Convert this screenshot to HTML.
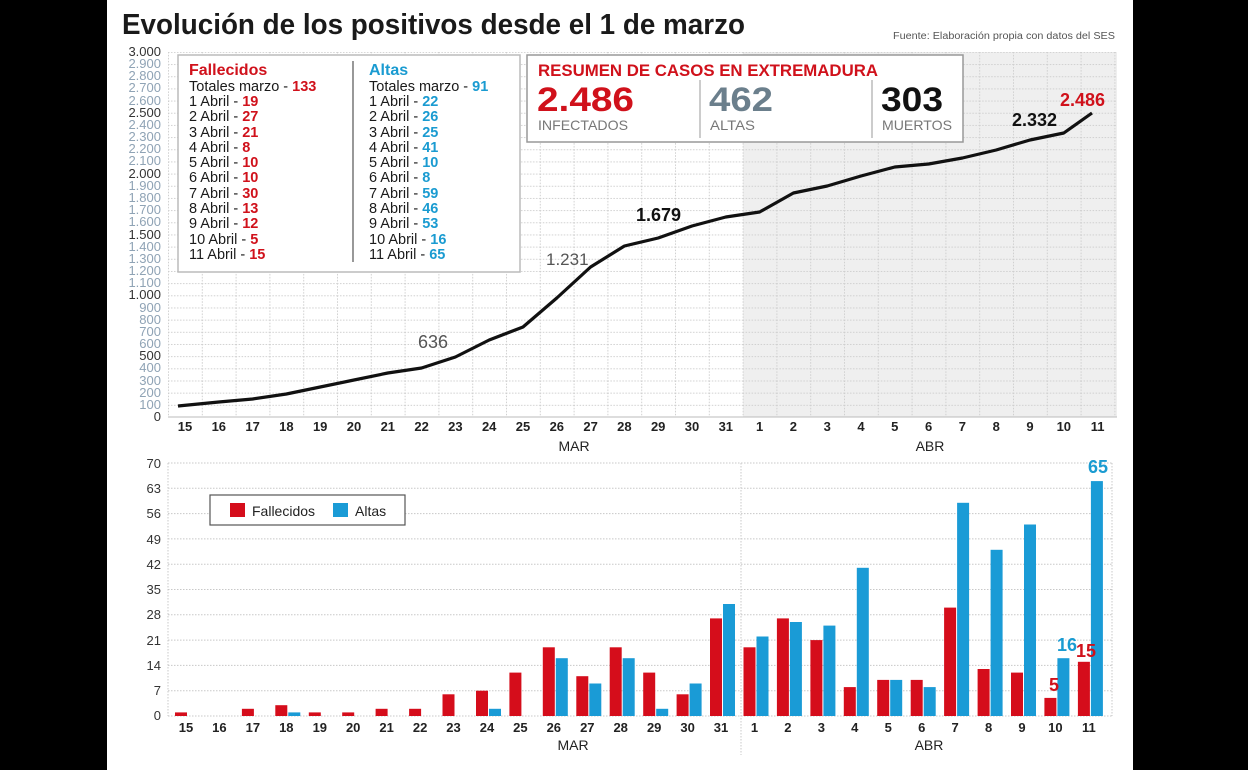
<!DOCTYPE html>
<html><head><meta charset="utf-8"><style>
html,body{margin:0;padding:0;background:#000;}
svg{display:block;font-family:"Liberation Sans",sans-serif;}
</style></head><body>
<svg width="1248" height="770" viewBox="0 0 1248 770" xmlns="http://www.w3.org/2000/svg">
<defs>
<pattern id="g1" x="168" y="51.9" width="33.8" height="12.17" patternUnits="userSpaceOnUse">
<path d="M0 0.5H33.8 M0.5 0V12.17" stroke="#cfcfcf" stroke-width="1" stroke-dasharray="1.5 1.5" fill="none"/>
</pattern>
</defs>
<rect x="0" y="0" width="1248" height="770" fill="#000"/>
<rect x="107" y="0" width="1026" height="770" fill="#fff"/>
<text x="122" y="34" font-size="29" font-weight="bold" fill="#1a1a1a" textLength="623" lengthAdjust="spacingAndGlyphs">Evolución de los positivos desde el 1 de marzo</text>
<text x="893" y="39" font-size="10" fill="#555" textLength="222" lengthAdjust="spacingAndGlyphs">Fuente: Elaboración propia con datos del SES</text>

<!-- top chart -->
<rect x="743" y="52" width="374" height="365" fill="#efefef"/>
<rect x="168" y="52" width="949" height="365" fill="url(#g1)"/>
<line x1="168" y1="417" x2="1117" y2="417" stroke="#bbb"/>
<g font-size="13" text-anchor="end" fill="#8fa3b5">
<text x="161" y="56" fill="#333">3.000</text><text x="161" y="68">2.900</text><text x="161" y="80">2.800</text><text x="161" y="92">2.700</text><text x="161" y="105">2.600</text><text x="161" y="117" fill="#333">2.500</text><text x="161" y="129">2.400</text><text x="161" y="141">2.300</text><text x="161" y="153">2.200</text><text x="161" y="165">2.100</text><text x="161" y="178" fill="#333">2.000</text><text x="161" y="190">1.900</text><text x="161" y="202">1.800</text><text x="161" y="214">1.700</text><text x="161" y="226">1.600</text><text x="161" y="239" fill="#333">1.500</text><text x="161" y="251">1.400</text><text x="161" y="263">1.300</text><text x="161" y="275">1.200</text><text x="161" y="287">1.100</text><text x="161" y="299" fill="#333">1.000</text><text x="161" y="312">900</text><text x="161" y="324">800</text><text x="161" y="336">700</text><text x="161" y="348">600</text><text x="161" y="360" fill="#333">500</text><text x="161" y="372">400</text><text x="161" y="385">300</text><text x="161" y="397">200</text><text x="161" y="409">100</text><text x="161" y="421" fill="#333">0</text>
</g>
<polyline fill="none" stroke="#111" stroke-width="3.2" stroke-linejoin="round" points="178,406 218.8,402 252.6,399 286.4,394 320.2,387 354,380 387.8,373 421.6,368 455.4,357 489.2,340 523,327 556.8,298 590.6,267 624.4,246 658.2,238 692,226 725.8,217 759.6,212 793.4,193 827.2,186 861,176 894.8,167 928.6,164 962.4,158 996.2,150 1030,140 1063.8,133 1092,113"/>
<text x="418" y="348" font-size="18" fill="#555">636</text>
<text x="546" y="265" font-size="17" fill="#555">1.231</text>
<text x="636" y="221" font-size="18" font-weight="bold" fill="#111">1.679</text>
<text x="1012" y="126" font-size="18" font-weight="bold" fill="#111">2.332</text>
<text x="1060" y="106" font-size="18" font-weight="bold" fill="#d0111b">2.486</text>
<g font-size="13" font-weight="bold" text-anchor="middle" fill="#222">
<text x="185" y="431">15</text><text x="218.8" y="431">16</text><text x="252.6" y="431">17</text><text x="286.4" y="431">18</text><text x="320.2" y="431">19</text><text x="354" y="431">20</text><text x="387.8" y="431">21</text><text x="421.6" y="431">22</text><text x="455.4" y="431">23</text><text x="489.2" y="431">24</text><text x="523" y="431">25</text><text x="556.8" y="431">26</text><text x="590.6" y="431">27</text><text x="624.4" y="431">28</text><text x="658.2" y="431">29</text><text x="692" y="431">30</text><text x="725.8" y="431">31</text><text x="759.6" y="431">1</text><text x="793.4" y="431">2</text><text x="827.2" y="431">3</text><text x="861" y="431">4</text><text x="894.8" y="431">5</text><text x="928.6" y="431">6</text><text x="962.4" y="431">7</text><text x="996.2" y="431">8</text><text x="1030" y="431">9</text><text x="1063.8" y="431">10</text><text x="1097.6" y="431">11</text>
<text x="574" y="451" font-weight="normal" font-size="14">MAR</text><text x="930" y="451" font-weight="normal" font-size="14">ABR</text>
</g>

<!-- legend table -->
<rect x="178" y="55" width="342" height="217" fill="#fff" stroke="#bbb" stroke-width="1.5"/>
<line x1="353" y1="61" x2="353" y2="262" stroke="#555" stroke-width="1.2"/>
<g font-size="14.5" fill="#1a1a1a">
<text x="189" y="75" font-weight="bold" fill="#d0111b" font-size="16">Fallecidos</text>
<text x="189" y="91">Totales marzo - <tspan fill="#d0111b" font-weight="bold">133</tspan></text>
<text x="189" y="106">1 Abril - <tspan fill="#d0111b" font-weight="bold">19</tspan></text>
<text x="189" y="121">2 Abril - <tspan fill="#d0111b" font-weight="bold">27</tspan></text>
<text x="189" y="137">3 Abril - <tspan fill="#d0111b" font-weight="bold">21</tspan></text>
<text x="189" y="152">4 Abril - <tspan fill="#d0111b" font-weight="bold">8</tspan></text>
<text x="189" y="167">5 Abril - <tspan fill="#d0111b" font-weight="bold">10</tspan></text>
<text x="189" y="182">6 Abril - <tspan fill="#d0111b" font-weight="bold">10</tspan></text>
<text x="189" y="198">7 Abril - <tspan fill="#d0111b" font-weight="bold">30</tspan></text>
<text x="189" y="213">8 Abril - <tspan fill="#d0111b" font-weight="bold">13</tspan></text>
<text x="189" y="228">9 Abril - <tspan fill="#d0111b" font-weight="bold">12</tspan></text>
<text x="189" y="244">10 Abril - <tspan fill="#d0111b" font-weight="bold">5</tspan></text>
<text x="189" y="259">11 Abril - <tspan fill="#d0111b" font-weight="bold">15</tspan></text>
<text x="369" y="75" font-weight="bold" fill="#1a9bd1" font-size="16">Altas</text>
<text x="369" y="91">Totales marzo - <tspan fill="#1a9bd1" font-weight="bold">91</tspan></text>
<text x="369" y="106">1 Abril - <tspan fill="#1a9bd1" font-weight="bold">22</tspan></text>
<text x="369" y="121">2 Abril - <tspan fill="#1a9bd1" font-weight="bold">26</tspan></text>
<text x="369" y="137">3 Abril - <tspan fill="#1a9bd1" font-weight="bold">25</tspan></text>
<text x="369" y="152">4 Abril - <tspan fill="#1a9bd1" font-weight="bold">41</tspan></text>
<text x="369" y="167">5 Abril - <tspan fill="#1a9bd1" font-weight="bold">10</tspan></text>
<text x="369" y="182">6 Abril - <tspan fill="#1a9bd1" font-weight="bold">8</tspan></text>
<text x="369" y="198">7 Abril - <tspan fill="#1a9bd1" font-weight="bold">59</tspan></text>
<text x="369" y="213">8 Abril - <tspan fill="#1a9bd1" font-weight="bold">46</tspan></text>
<text x="369" y="228">9 Abril - <tspan fill="#1a9bd1" font-weight="bold">53</tspan></text>
<text x="369" y="244">10 Abril - <tspan fill="#1a9bd1" font-weight="bold">16</tspan></text>
<text x="369" y="259">11 Abril - <tspan fill="#1a9bd1" font-weight="bold">65</tspan></text>
</g>

<!-- summary -->
<rect x="527" y="55" width="436" height="87" fill="#fff" stroke="#999" stroke-width="1.5"/>
<text x="538" y="76" font-size="17" font-weight="bold" fill="#d0111b" textLength="340" lengthAdjust="spacingAndGlyphs">RESUMEN DE CASOS EN EXTREMADURA</text>
<line x1="700" y1="80" x2="700" y2="138" stroke="#999"/>
<line x1="872" y1="80" x2="872" y2="138" stroke="#999"/>
<text x="537" y="111" font-size="34" font-weight="bold" fill="#d0111b" textLength="97" lengthAdjust="spacingAndGlyphs">2.486</text>
<text x="709" y="111" font-size="34" font-weight="bold" fill="#6b7f8c" textLength="64" lengthAdjust="spacingAndGlyphs">462</text>
<text x="881" y="111" font-size="34" font-weight="bold" fill="#111" textLength="62" lengthAdjust="spacingAndGlyphs">303</text>
<text x="538" y="130" font-size="14" fill="#777" textLength="90" lengthAdjust="spacingAndGlyphs">INFECTADOS</text>
<text x="710" y="130" font-size="14" fill="#777" textLength="45" lengthAdjust="spacingAndGlyphs">ALTAS</text>
<text x="882" y="130" font-size="14" fill="#777" textLength="70" lengthAdjust="spacingAndGlyphs">MUERTOS</text>

<!-- bottom chart -->
<g stroke="#c8c8c8" stroke-dasharray="1.5 1.5">
<line x1="168" y1="463" x2="1112" y2="463"/><line x1="168" y1="488.3" x2="1112" y2="488.3"/><line x1="168" y1="513.6" x2="1112" y2="513.6"/><line x1="168" y1="538.9" x2="1112" y2="538.9"/><line x1="168" y1="564.2" x2="1112" y2="564.2"/><line x1="168" y1="589.5" x2="1112" y2="589.5"/><line x1="168" y1="614.8" x2="1112" y2="614.8"/><line x1="168" y1="640.1" x2="1112" y2="640.1"/><line x1="168" y1="665.4" x2="1112" y2="665.4"/><line x1="168" y1="690.7" x2="1112" y2="690.7"/><line x1="168" y1="716" x2="1112" y2="716"/>
<line x1="168" y1="463" x2="168" y2="716"/><line x1="1112" y1="463" x2="1112" y2="716"/><line x1="741" y1="463" x2="741" y2="755"/>
</g>
<g font-size="13" text-anchor="end" fill="#333">
<text x="161" y="468">70</text><text x="161" y="493">63</text><text x="161" y="518">56</text><text x="161" y="544">49</text><text x="161" y="569">42</text><text x="161" y="594">35</text><text x="161" y="619">28</text><text x="161" y="645">21</text><text x="161" y="670">14</text><text x="161" y="695">7</text><text x="161" y="720">0</text>
</g>
<g fill="#d50d1b">
<rect x="175" y="712.4" width="12" height="3.6"/><rect x="241.9" y="708.8" width="12" height="7.2"/><rect x="275.3" y="705.2" width="12" height="10.8"/><rect x="308.8" y="712.4" width="12" height="3.6"/><rect x="342.2" y="712.4" width="12" height="3.6"/><rect x="375.6" y="708.8" width="12" height="7.2"/><rect x="409.1" y="708.8" width="12" height="7.2"/><rect x="442.5" y="694.3" width="12" height="21.7"/><rect x="476" y="690.7" width="12" height="25.3"/><rect x="509.4" y="672.6" width="12" height="43.4"/><rect x="542.8" y="647.3" width="12" height="68.7"/><rect x="576.3" y="676.2" width="12" height="39.8"/><rect x="609.7" y="647.3" width="12" height="68.7"/><rect x="643.2" y="672.6" width="12" height="43.4"/><rect x="676.6" y="694.3" width="12" height="21.7"/><rect x="710" y="618.4" width="12" height="97.6"/><rect x="743.5" y="647.3" width="12" height="68.7"/><rect x="776.9" y="618.4" width="12" height="97.6"/><rect x="810.4" y="640.1" width="12" height="75.9"/><rect x="843.8" y="687.1" width="12" height="28.9"/><rect x="877.2" y="679.9" width="12" height="36.1"/><rect x="910.7" y="679.9" width="12" height="36.1"/><rect x="944.1" y="607.6" width="12" height="108.4"/><rect x="977.6" y="669" width="12" height="47"/><rect x="1011" y="672.6" width="12" height="43.4"/><rect x="1044.4" y="697.9" width="12" height="18.1"/><rect x="1077.9" y="661.8" width="12" height="54.2"/>
</g>
<g fill="#1a9bd6">
<rect x="288.3" y="712.4" width="12" height="3.6"/><rect x="489" y="708.8" width="12" height="7.2"/><rect x="555.8" y="658.2" width="12" height="57.8"/><rect x="589.3" y="683.5" width="12" height="32.5"/><rect x="622.7" y="658.2" width="12" height="57.8"/><rect x="656.2" y="708.8" width="12" height="7.2"/><rect x="689.6" y="683.5" width="12" height="32.5"/><rect x="723" y="604" width="12" height="112"/><rect x="756.5" y="636.5" width="12" height="79.5"/><rect x="789.9" y="622" width="12" height="94"/><rect x="823.4" y="625.6" width="12" height="90.4"/><rect x="856.8" y="567.8" width="12" height="148.2"/><rect x="890.2" y="679.9" width="12" height="36.1"/><rect x="923.7" y="687.1" width="12" height="28.9"/><rect x="957.1" y="502.8" width="12" height="213.2"/><rect x="990.6" y="549.8" width="12" height="166.2"/><rect x="1024" y="524.5" width="12" height="191.5"/><rect x="1057.4" y="658.2" width="12" height="57.8"/><rect x="1090.9" y="481.1" width="12" height="234.9"/>
</g>
<g font-size="18" font-weight="bold">
<text x="1088" y="473" fill="#1a9bd1">65</text>
<text x="1057" y="651" fill="#1a9bd1">16</text>
<text x="1076" y="657" fill="#d0111b">15</text>
<text x="1049" y="691" fill="#d0111b">5</text>
</g>
<rect x="210" y="495" width="195" height="30" fill="#fff" stroke="#555" stroke-width="1.2"/>
<rect x="230" y="503" width="15" height="14" fill="#d50d1b"/>
<text x="252" y="516" font-size="14" fill="#222">Fallecidos</text>
<rect x="333" y="503" width="15" height="14" fill="#1a9bd6"/>
<text x="355" y="516" font-size="14" fill="#222">Altas</text>
<g font-size="13" font-weight="bold" text-anchor="middle" fill="#222">
<text x="186" y="732">15</text><text x="219.4" y="732">16</text><text x="252.9" y="732">17</text><text x="286.3" y="732">18</text><text x="319.8" y="732">19</text><text x="353.2" y="732">20</text><text x="386.6" y="732">21</text><text x="420.1" y="732">22</text><text x="453.5" y="732">23</text><text x="487" y="732">24</text><text x="520.4" y="732">25</text><text x="553.8" y="732">26</text><text x="587.3" y="732">27</text><text x="620.7" y="732">28</text><text x="654.2" y="732">29</text><text x="687.6" y="732">30</text><text x="721" y="732">31</text><text x="754.5" y="732">1</text><text x="787.9" y="732">2</text><text x="821.4" y="732">3</text><text x="854.8" y="732">4</text><text x="888.2" y="732">5</text><text x="921.7" y="732">6</text><text x="955.1" y="732">7</text><text x="988.6" y="732">8</text><text x="1022" y="732">9</text><text x="1055.4" y="732">10</text><text x="1088.9" y="732">11</text>
<text x="573" y="750" font-weight="normal" font-size="14">MAR</text><text x="929" y="750" font-weight="normal" font-size="14">ABR</text>
</g>
</svg>
</body></html>
